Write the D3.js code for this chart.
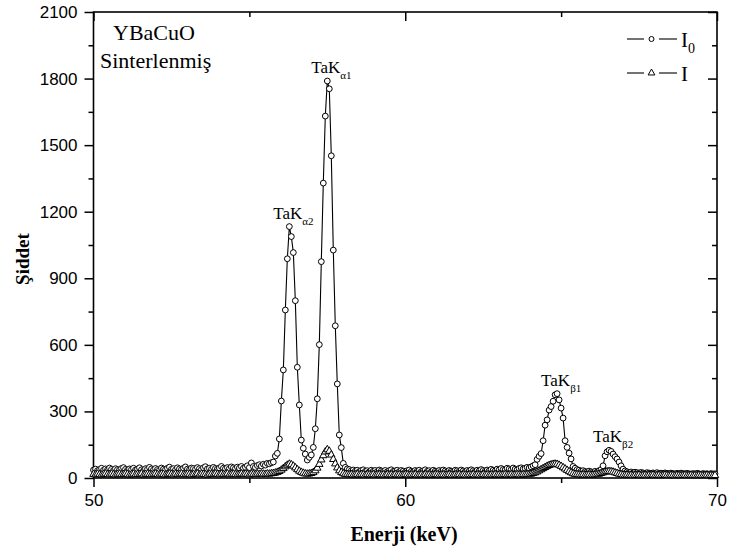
<!DOCTYPE html>
<html>
<head>
<meta charset="utf-8">
<script src="https://cdn.jsdelivr.net/npm/d3@7"></script>
<style>
  html, body { margin: 0; padding: 0; background: #fff; }
  svg { display: block; }
</style>
</head>
<body>
<svg id="chart" width="729" height="558"></svg>
<script>
// Channel calibration: energy of channel i = energyStart + i * energyStep (keV)
const energyStart = 50.0;
const energyStep = 0.0641;

// Incident intensity I0, one value per channel
const intensityI0 = [
  36, 40, 33, 38, 44, 35, 41, 37, 45, 39,
  34, 42, 38, 36, 43, 47, 39, 35, 41, 38,
  44, 36, 40, 46, 37, 33, 42, 39, 48, 41,
  36, 43, 38, 35, 45, 40, 37, 44, 49, 39,
  42, 36, 46, 41, 38, 44, 50, 40, 37, 45,
  43, 39, 47, 42, 38, 46, 51, 41, 44, 39,
  48, 43, 40, 45, 52, 44, 41, 47, 43, 50,
  46, 42, 49, 45, 52, 44, 48, 55, 47, 68,
  52, 48, 56, 60, 54, 62, 58, 66, 64, 69,
  72, 99, 111, 176, 347, 487, 757, 988, 1133, 1088,
  1016, 799, 499, 329, 171, 134, 108, 81, 93, 104,
  138, 222, 357, 601, 975, 1329, 1631, 1789, 1754, 1452,
  1027, 686, 424, 194, 137, 66, 48, 41,
  38, 33, 36, 31, 35, 29, 34, 37, 30, 33,
  28, 35, 31, 34, 29, 36, 32, 30, 34, 28,
  33, 37, 30, 32, 35, 29, 34, 31, 27, 33,
  36, 30, 28, 34, 31, 35, 29, 32, 37, 30,
  33, 28, 35, 31, 29, 34, 30, 36, 32, 28,
  34, 31, 29, 35, 33, 30, 36, 32, 29, 34,
  31, 37, 33, 30, 35, 32, 38, 34, 31, 36,
  33, 39, 35, 32, 40, 37, 43, 38, 36, 44,
  41, 38, 45, 40, 37, 43, 46, 41, 44, 48,
  45, 50, 55,
  60, 84, 98, 110, 168, 238, 262, 306, 322, 346,
  375, 380, 352, 315, 270, 168, 138, 112, 86, 52,
  44, 38,
  35, 31, 33, 29, 27, 31, 28, 26, 30, 27, 33, 38,
  55, 100, 118, 125, 120, 108, 96, 86, 72, 55, 40, 32,
  28, 25, 27, 23, 26, 24, 22, 25, 23, 21,
  24, 22, 20, 23, 21, 24, 20, 22, 19, 23,
  21, 19, 22, 20, 18, 21, 19, 22, 20, 18,
  21, 19, 17, 20, 18, 21, 19, 17, 20, 18,
  19, 17, 20, 18, 19
];

// Transmitted intensity I, one value per channel
const intensityI = [
  17, 15, 18, 16, 14, 17, 19, 16, 15, 18,
  16, 14, 17, 18, 15, 16, 19, 17, 14, 16,
  18, 15, 17, 16, 19, 14, 17, 18, 16, 15,
  17, 19, 16, 15, 18, 17, 14, 16, 19, 17,
  15, 18, 16, 17, 19, 15, 16, 18, 17, 14,
  17, 16, 19, 15, 18, 17, 16, 14, 18, 17,
  16, 19, 17, 15, 18, 16, 17, 19, 15, 17,
  18, 16, 15, 17, 19, 16, 18, 17, 15, 18,
  17, 16, 18, 17, 19, 18, 17, 19, 18, 20,
  21, 23, 26, 30, 36, 43, 51, 58, 63, 60,
  54, 46, 38, 31, 26, 22, 19, 18, 19, 21,
  25, 33, 45, 62, 82, 101, 118, 128, 121, 104,
  84, 64, 46, 33, 25, 20, 17, 16,
  15, 16, 14, 15, 17, 14, 16, 15, 13, 16,
  15, 14, 16, 13, 15, 16, 14, 15, 13, 16,
  14, 15, 13, 16, 14, 15, 13, 14, 16, 15,
  13, 15, 14, 16, 13, 14, 15, 13, 16, 14,
  15, 13, 14, 16, 15, 13, 14, 15, 13, 14,
  16, 14, 13, 15, 14, 16, 13, 15, 14, 13,
  15, 14, 16, 13, 15, 14, 13, 16, 14, 15,
  13, 15, 14, 16, 14, 15, 14, 15, 16, 14,
  15, 16, 14, 15, 16, 15, 14, 16, 15, 16,
  16, 18, 21,
  24, 28, 33, 38, 43, 48, 53, 57, 60, 62,
  63, 62, 58, 53, 47, 41, 35, 29, 24, 20,
  17, 16,
  15, 14, 15, 13, 14, 15, 13, 14, 15, 16, 18, 21,
  24, 27, 29, 30, 29, 27, 24, 21, 18, 16, 14, 13,
  14, 12, 13, 11, 13, 12, 14, 11, 12, 13,
  11, 13, 12, 14, 11, 12, 13, 11, 12, 14,
  12, 11, 13, 12, 11, 13, 12, 11, 12, 13,
  11, 12, 13, 11, 12, 11, 13, 12, 11, 12,
  13, 11, 12, 11, 12
];

// Axis ticks
const xMajorTicks = [50, 60, 70];
const xMinorTicks = [55, 65];
const yMajorTicks = [0, 300, 600, 900, 1200, 1500, 1800, 2100];
const yMinorTicks = [150, 450, 750, 1050, 1350, 1650, 1950];

// Peak annotations: channel of the peak in I0, line name and subscript
const peakChannels = [98, 117, 232, 258];
const peakNames = ["TaK", "TaK", "TaK", "TaK"];
const peakSubs = ["\u03B12", "\u03B11", "\u03B21", "\u03B22"];

// Legend entries
const legendLabels = ["I", "I"];
const legendSubs = ["0", ""];
const legendSymbols = ["circle", "triangle"];

// Sample captions
const captionLines = ["YBaCuO", "Sinterlenmiş"];

const svg = d3.select("#chart");
const plotLeft = 93.5, plotRight = 717, plotTop = 12, plotBottom = 478;

const x = d3.scaleLinear().domain([50, 70]).range([plotLeft, plotRight]);
const y = d3.scaleLinear().domain([0, 2100]).range([plotBottom, plotTop]);

const energyAt = i => energyStart + i * energyStep;

const serif = "'Liberation Serif', 'Times New Roman', Times, serif";
const sans = "'Liberation Sans', Arial, Helvetica, sans-serif";

// ---- Axes ----
function styleAxis(g) {
  g.select(".domain").remove();
  g.selectAll(".tick line").attr("stroke", "#000").attr("stroke-width", 1.5);
  g.selectAll(".tick text").attr("fill", "#000")
    .style("font-family", sans).style("font-size", "17px");
}

// bottom (labelled, outward ticks)
svg.append("g").attr("transform", `translate(0,${plotBottom})`)
  .call(d3.axisBottom(x).tickValues(xMajorTicks).tickSize(9).tickPadding(7).tickFormat(d3.format("d")))
  .call(styleAxis);
svg.append("g").attr("transform", `translate(0,${plotBottom})`)
  .call(d3.axisBottom(x).tickValues(xMinorTicks).tickSize(5).tickFormat(""))
  .call(styleAxis);
// top (inward ticks)
svg.append("g").attr("transform", `translate(0,${plotTop})`)
  .call(d3.axisBottom(x).tickValues(xMajorTicks).tickSize(9).tickFormat(""))
  .call(styleAxis);
svg.append("g").attr("transform", `translate(0,${plotTop})`)
  .call(d3.axisBottom(x).tickValues(xMinorTicks).tickSize(5).tickFormat(""))
  .call(styleAxis);
// left (labelled, outward ticks)
svg.append("g").attr("transform", `translate(${plotLeft},0)`)
  .call(d3.axisLeft(y).tickValues(yMajorTicks).tickSize(9).tickPadding(7).tickFormat(d3.format("d")))
  .call(styleAxis);
svg.append("g").attr("transform", `translate(${plotLeft},0)`)
  .call(d3.axisLeft(y).tickValues(yMinorTicks).tickSize(5).tickFormat(""))
  .call(styleAxis);
// right (inward ticks)
svg.append("g").attr("transform", `translate(${plotRight},0)`)
  .call(d3.axisLeft(y).tickValues(yMajorTicks).tickSize(9).tickFormat(""))
  .call(styleAxis);
svg.append("g").attr("transform", `translate(${plotRight},0)`)
  .call(d3.axisLeft(y).tickValues(yMinorTicks).tickSize(5).tickFormat(""))
  .call(styleAxis);

// frame
svg.append("rect")
  .attr("x", plotLeft).attr("y", plotTop)
  .attr("width", plotRight - plotLeft).attr("height", plotBottom - plotTop)
  .attr("fill", "none").attr("stroke", "#000").attr("stroke-width", 1.6);

// axis titles
svg.append("text")
  .attr("transform", `translate(29,${(plotTop + plotBottom) / 2 + 14}) rotate(-90)`)
  .attr("text-anchor", "middle")
  .style("font-family", serif).style("font-weight", "bold").style("font-size", "19px")
  .text("Şiddet");
svg.append("text")
  .attr("x", 404).attr("y", 541)
  .attr("text-anchor", "middle")
  .style("font-family", serif).style("font-weight", "bold").style("font-size", "20px")
  .text("Enerji (keV)");

// ---- Series ----
const lineGen = d3.line().x((d, i) => x(energyAt(i))).y(d => y(d));
const triangle = d3.symbol().type(d3.symbolTriangle).size(24);

const plot = svg.append("g");

plot.append("path").datum(intensityI0)
  .attr("d", lineGen).attr("fill", "none").attr("stroke", "#000").attr("stroke-width", 1.1);
plot.append("g").selectAll("circle").data(intensityI0).join("circle")
  .attr("cx", (d, i) => x(energyAt(i))).attr("cy", d => y(d))
  .attr("r", 2.9).attr("fill", "#fff").attr("stroke", "#000").attr("stroke-width", 1);

plot.append("path").datum(intensityI)
  .attr("d", lineGen).attr("fill", "none").attr("stroke", "#000").attr("stroke-width", 1.1);
plot.append("g").selectAll("path").data(intensityI).join("path")
  .attr("transform", (d, i) => `translate(${x(energyAt(i))},${y(d)})`)
  .attr("d", triangle).attr("fill", "#fff").attr("stroke", "#000").attr("stroke-width", 1);

// ---- Peak labels ----
const peakLabels = svg.append("g").selectAll("text").data(peakChannels).join("text")
  .attr("x", d => x(energyAt(d)) - 16)
  .attr("y", d => y(intensityI0[d]) - 8)
  .style("font-family", serif).style("font-size", "17px");
peakLabels.append("tspan").text((d, i) => peakNames[i]);
peakLabels.append("tspan").attr("dy", 6).style("font-size", "11px")
  .text((d, i) => peakSubs[i]);

// ---- Captions ----
svg.append("text").attr("x", 113).attr("y", 40)
  .style("font-family", serif).style("font-size", "22px").text(captionLines[0]);
svg.append("text").attr("x", 100).attr("y", 68)
  .style("font-family", serif).style("font-size", "22px").text(captionLines[1]);

// ---- Legend ----
const legend = svg.append("g").selectAll("g").data(legendLabels).join("g")
  .attr("transform", (d, i) => `translate(0,${39 + i * 34})`);
legend.append("line").attr("x1", 627).attr("x2", 644).attr("y1", 0).attr("y2", 0)
  .attr("stroke", "#000").attr("stroke-width", 1.1);
legend.append("line").attr("x1", 659).attr("x2", 677).attr("y1", 0).attr("y2", 0)
  .attr("stroke", "#000").attr("stroke-width", 1.1);
legend.each(function (d, i) {
  const g = d3.select(this);
  if (legendSymbols[i] === "circle") {
    g.append("circle").attr("cx", 651.5).attr("cy", 0).attr("r", 2.5)
      .attr("fill", "#fff").attr("stroke", "#000").attr("stroke-width", 1);
  } else {
    g.append("path").attr("transform", "translate(651.5,0)")
      .attr("d", d3.symbol().type(d3.symbolTriangle).size(20)())
      .attr("fill", "#fff").attr("stroke", "#000").attr("stroke-width", 1);
  }
  const t = g.append("text").attr("x", 681).attr("y", 8)
    .style("font-family", serif).style("font-size", "21px");
  t.append("tspan").text(legendLabels[i]);
  if (legendSubs[i]) {
    t.append("tspan").attr("dy", 6).style("font-size", "14px").text(legendSubs[i]);
  }
});
</script>
</body>
</html>
